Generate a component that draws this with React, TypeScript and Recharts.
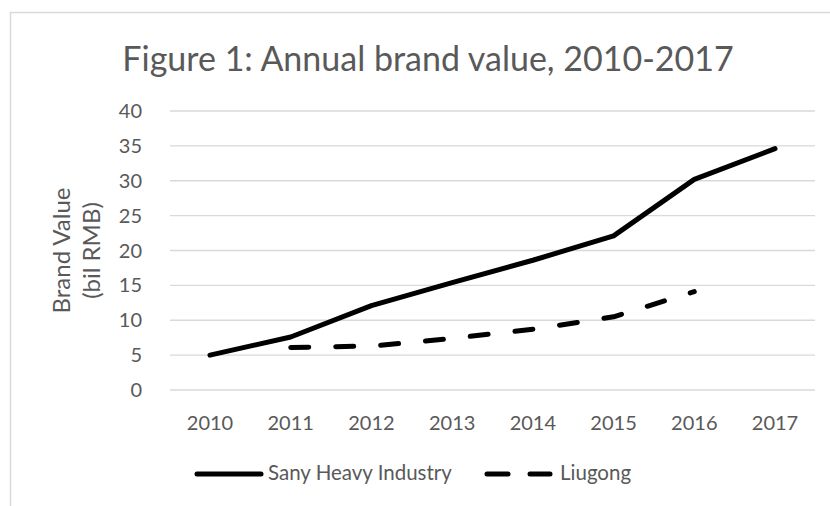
import React from 'react';
import { LineChart, Line, XAxis, YAxis, CartesianGrid, Legend } from 'recharts';

const years = ['2010', '2011', '2012', '2013', '2014', '2015', '2016', '2017'];
const sany = [5.0, 7.6, 12.1, 15.4, 18.6, 22.1, 30.2, 34.6];
const liugong: (number | null)[] = [null, 6.1, 6.3, 7.4, 8.7, 10.5, 14.1, null];
const yTicks = [0, 5, 10, 15, 20, 25, 30, 35, 40];

const data = years.map((year, i) => ({ year, sany: sany[i], liugong: liugong[i] }));

const FONT = 'Lato, "Open Sans", sans-serif';
const GREY = '#595959';

function AxisTitle(props: any) {
  const { viewBox } = props;
  const cy = viewBox.y + viewBox.height / 2;
  return (
    <g>
      <text x={70} y={cy} transform={`rotate(-90, 70, ${cy})`} textAnchor="middle" fill={GREY} fontSize={24} fontFamily={FONT}>
        Brand Value
      </text>
      <text x={100} y={cy} transform={`rotate(-90, 100, ${cy})`} textAnchor="middle" fill={GREY} fontSize={24} fontFamily={FONT}>
        (bil RMB)
      </text>
    </g>
  );
}

// legend box sits at y=456..496 in the chart
function LegendBox() {
  return (
    <svg width={830} height={40} style={{ display: 'block' }}>
      <line x1={197} y1={18} x2={261} y2={18} stroke="#000" strokeWidth={5} strokeLinecap="round" />
      <text x={268} y={24} fill={GREY} fontSize={20.5} fontFamily={FONT}>Sany Heavy Industry</text>
      <line x1={487} y1={18} x2={508} y2={18} stroke="#000" strokeWidth={5} strokeLinecap="round" />
      <line x1={530} y1={18} x2={550} y2={18} stroke="#000" strokeWidth={5} strokeLinecap="round" />
      <text x={560} y={24} fill={GREY} fontSize={20.5} fontFamily={FONT}>Liugong</text>
    </svg>
  );
}

export default function App() {
  return (
    <div style={{ position: 'absolute', left: 0, top: 0, width: 830, height: 506, background: '#fff' }}>
      <LineChart width={830} height={506} data={data} margin={{ top: 111, right: 15, left: 0, bottom: 0 }}>
        <rect x={10.5} y={12.5} width={840} height={520} fill="none" stroke="#d9d9d9" strokeWidth={1.5} />
        <text x={428} y={71} textAnchor="middle" fill={GREY} fontSize={34} fontFamily={FONT}>
          Figure 1: Annual brand value, 2010-2017
        </text>
        <CartesianGrid vertical={false} stroke="#d9d9d9" strokeWidth={1.3} />
        <XAxis
          dataKey="year"
          height={76}
          padding={{ left: 40, right: 40 }}
          axisLine={false}
          tickLine={false}
          tickSize={0}
          tickMargin={26}
          tick={{ fill: GREY, fontSize: 20, fontFamily: FONT }}
        />
        <YAxis
          width={170}
          domain={[0, 40]}
          ticks={yTicks}
          axisLine={false}
          tickLine={false}
          tickSize={0}
          tickMargin={28}
          tick={{ fill: GREY, fontSize: 20, fontFamily: FONT }}
          label={<AxisTitle />}
        />
        <Legend verticalAlign="bottom" height={40} content={() => <LegendBox />} wrapperStyle={{ left: 0, top: 456, width: 830 }} />
        <Line
          type="linear"
          dataKey="sany"
          name="Sany Heavy Industry"
          stroke="#000"
          strokeWidth={5}
          strokeLinecap="round"
          strokeLinejoin="round"
          dot={false}
          isAnimationActive={false}
        />
        <Line
          type="linear"
          dataKey="liugong"
          name="Liugong"
          stroke="#000"
          strokeWidth={5}
          strokeDasharray="18 27"
          strokeLinecap="round"
          strokeLinejoin="round"
          dot={false}
          isAnimationActive={false}
        />
      </LineChart>
    </div>
  );
}
